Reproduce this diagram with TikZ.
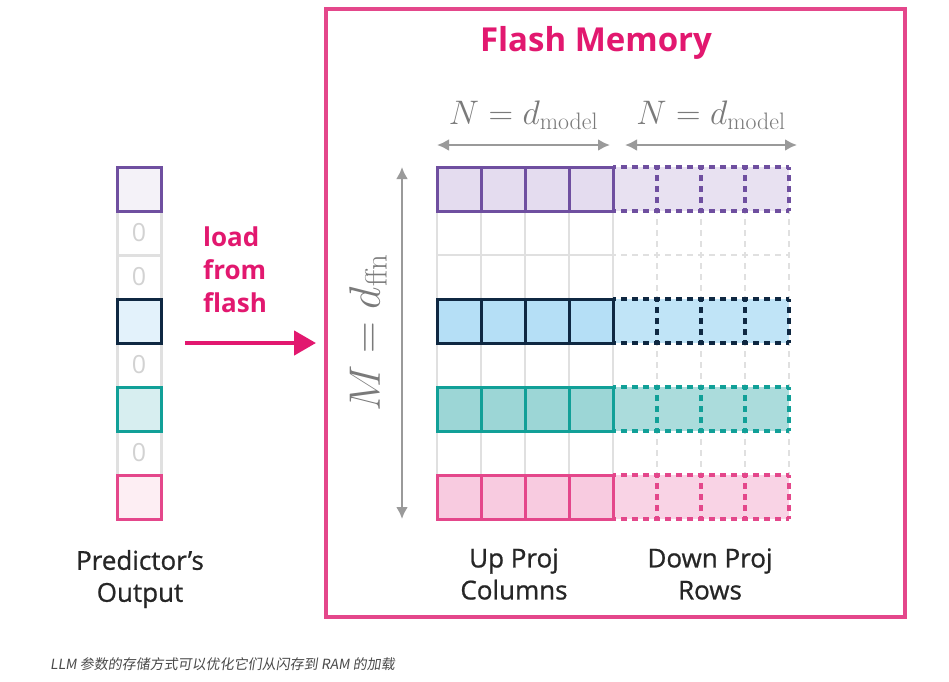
\RequirePackage{fix-cm}
\documentclass[tikz,border=0pt]{standalone}
\usepackage[no-math]{fontspec}
\setmainfont{Open Sans}
\newfontfamily\medsans[FakeBold=0.8]{Open Sans}
\newfontfamily\cjk[FakeSlant=0.15]{Noto Sans CJK SC}
\usepackage{tikz}
\usetikzlibrary{positioning,arrows.meta}

\definecolor{flashpink}{HTML}{E2186F}
\definecolor{framepink}{HTML}{E4478B}
\definecolor{gridgray}{HTML}{E0E0E0}
\definecolor{zerogray}{HTML}{D2D2D2}
\definecolor{dimgray}{HTML}{9A9A9A}
\definecolor{labgray}{HTML}{7A7A7A}
\definecolor{textdark}{HTML}{262626}
\definecolor{capgray}{HTML}{4A4A4A}
\definecolor{lineVio}{HTML}{6F4FA0}
\definecolor{fillVio}{HTML}{E4DCEF}
\definecolor{cellVio}{HTML}{F4F2F8}
\definecolor{lineNav}{HTML}{0F2842}
\definecolor{fillNav}{HTML}{B5DFF6}
\definecolor{cellNav}{HTML}{E3F2FB}
\definecolor{lineTea}{HTML}{11A098}
\definecolor{fillTea}{HTML}{9CD6D6}
\definecolor{cellTea}{HTML}{D7EEF0}
\definecolor{lineRos}{HTML}{E4478B}
\definecolor{fillRos}{HTML}{F8CBE0}
\definecolor{cellRos}{HTML}{FDEEF3}

\begin{document}
\begin{tikzpicture}[x=1pt,y=-1pt,
cell/.style={draw,rectangle,minimum size=44pt,inner sep=0pt,outer sep=0pt,line width=3pt},
zero/.style={cell,draw=gridgray,text=zerogray,font=\fontsize{25}{25}\selectfont},
gridline/.style={draw=gridgray,line width=2.5pt},
dashline/.style={dash pattern=on 6pt off 5pt,dash phase=3pt},
solidrow/.style={line width=3pt},
dashrow/.style={line width=3.5pt,dashline},
dimarrow/.style={draw=dimgray,line width=2.5pt,{Latex[length=12pt,width=12pt]}-{Latex[length=12pt,width=12pt]}},
dimlab/.style={text=labgray,inner sep=0pt},
lab/.style={text=textdark,font=\medsans\fontsize{26}{32}\selectfont,align=center}]
\fill[white] (0,0) rectangle (949,681);
\useasboundingbox (0,0) rectangle (949,681);

% predictor output column
\node (p2) [zero] at (139,233) {0};
\node (p3) [zero,below=0pt of p2] {0};
\node (p5) [zero] at (139,365) {0};
\node (p7) [zero] at (139,453) {0};
\node (p1) [cell,draw=lineVio,fill=cellVio,above=0pt of p2] {};
\node (p4) [cell,draw=lineNav,fill=cellNav,below=0pt of p3] {};
\node (p6) [cell,draw=lineTea,fill=cellTea,below=0pt of p5] {};
\node (p8) [cell,draw=lineRos,fill=cellRos,below=0pt of p7] {};
\node (predout) [lab] at (140,579) {Predictor’s\\Output};

% load arrow
\node (load) [anchor=west,inner sep=0pt,align=left,text=flashpink,
    font=\bfseries\fontsize{26}{33}\selectfont] at (203,270) {load\\from\\flash};
\coordinate (ldS) at (185,343);
\coordinate (ldE) at (316,343);
\draw[flashpink,line width=4.5pt,-{Triangle[length=22pt,width=24pt]}] (ldS) -- (ldE);

% flash memory
\draw[framepink,line width=3.5pt] (326,9) rectangle (905,617);
\node (title) [text=flashpink,font=\bfseries\fontsize{33}{40}\selectfont] at (596,43) {Flash Memory};

% empty grid
\foreach \i in {0,...,4} \draw[gridline] (437+44*\i,167) -- (437+44*\i,519);
\foreach \j in {0,...,8} \draw[gridline] (437,167+44*\j) -- (613,167+44*\j);
\foreach \i in {1,...,4} \draw[gridline,dashline] (613+44*\i,167) -- (613+44*\i,519);
\foreach \j in {0,...,8} \draw[gridline,dashline] (613,167+44*\j) -- (789,167+44*\j);

% loaded rows
\foreach \r/\c in {0/Vio,3/Nav,5/Tea,7/Ros}{
  \pgfmathsetmacro\yt{167+44*\r}
  \fill[fill\c!85] (613,\yt) rectangle (789,\yt+44);
  \foreach \i in {1,2,3,4} \draw[dashrow,draw=line\c] (613+44*\i,\yt) -- (613+44*\i,\yt+44);
  \draw[dashrow,draw=line\c] (613,\yt) -- (789,\yt);
  \draw[dashrow,draw=line\c] (613,\yt+44) -- (789,\yt+44);
  \filldraw[solidrow,draw=line\c,fill=fill\c] (437,\yt) rectangle (613,\yt+44);
  \foreach \i in {1,2,3} \draw[solidrow,draw=line\c] (437+44*\i,\yt) -- (437+44*\i,\yt+44);
}

% dimensions
\coordinate (nL1) at (437,145);
\coordinate (nR1) at (610,145);
\coordinate (nL2) at (625,145);
\coordinate (nR2) at (797,145);
\coordinate (mT) at (402,167);
\coordinate (mB) at (402,519);
\draw[dimarrow] (nL1) -- (nR1) node (nlab1) [midway,above=14pt,dimlab,font=\fontsize{34}{40}\selectfont] {$N = d_{\mathrm{model}}$};
\draw[dimarrow] (nL2) -- (nR2) node (nlab2) [midway,above=14pt,dimlab,font=\fontsize{34}{40}\selectfont] {$N = d_{\mathrm{model}}$};
\draw[dimarrow] (mT) -- (mB);
\node (mlab) [dimlab,rotate=90,font=\fontsize{44}{50}\selectfont] at (368,333) {$M = d_{\mathrm{ffn}}$};

\node (uplab) [lab] at (514,574) {Up Proj\\Columns};
\node (dnlab) [lab] at (710,574) {Down Proj\\Rows};

\node (cap) [anchor=west,inner sep=0pt,text=capgray,font=\cjk\fontsize{14}{16}\selectfont] at (50,664) {LLM 参数的存储方式可以优化它们从闪存到 RAM 的加载};
\end{tikzpicture}
\end{document}
